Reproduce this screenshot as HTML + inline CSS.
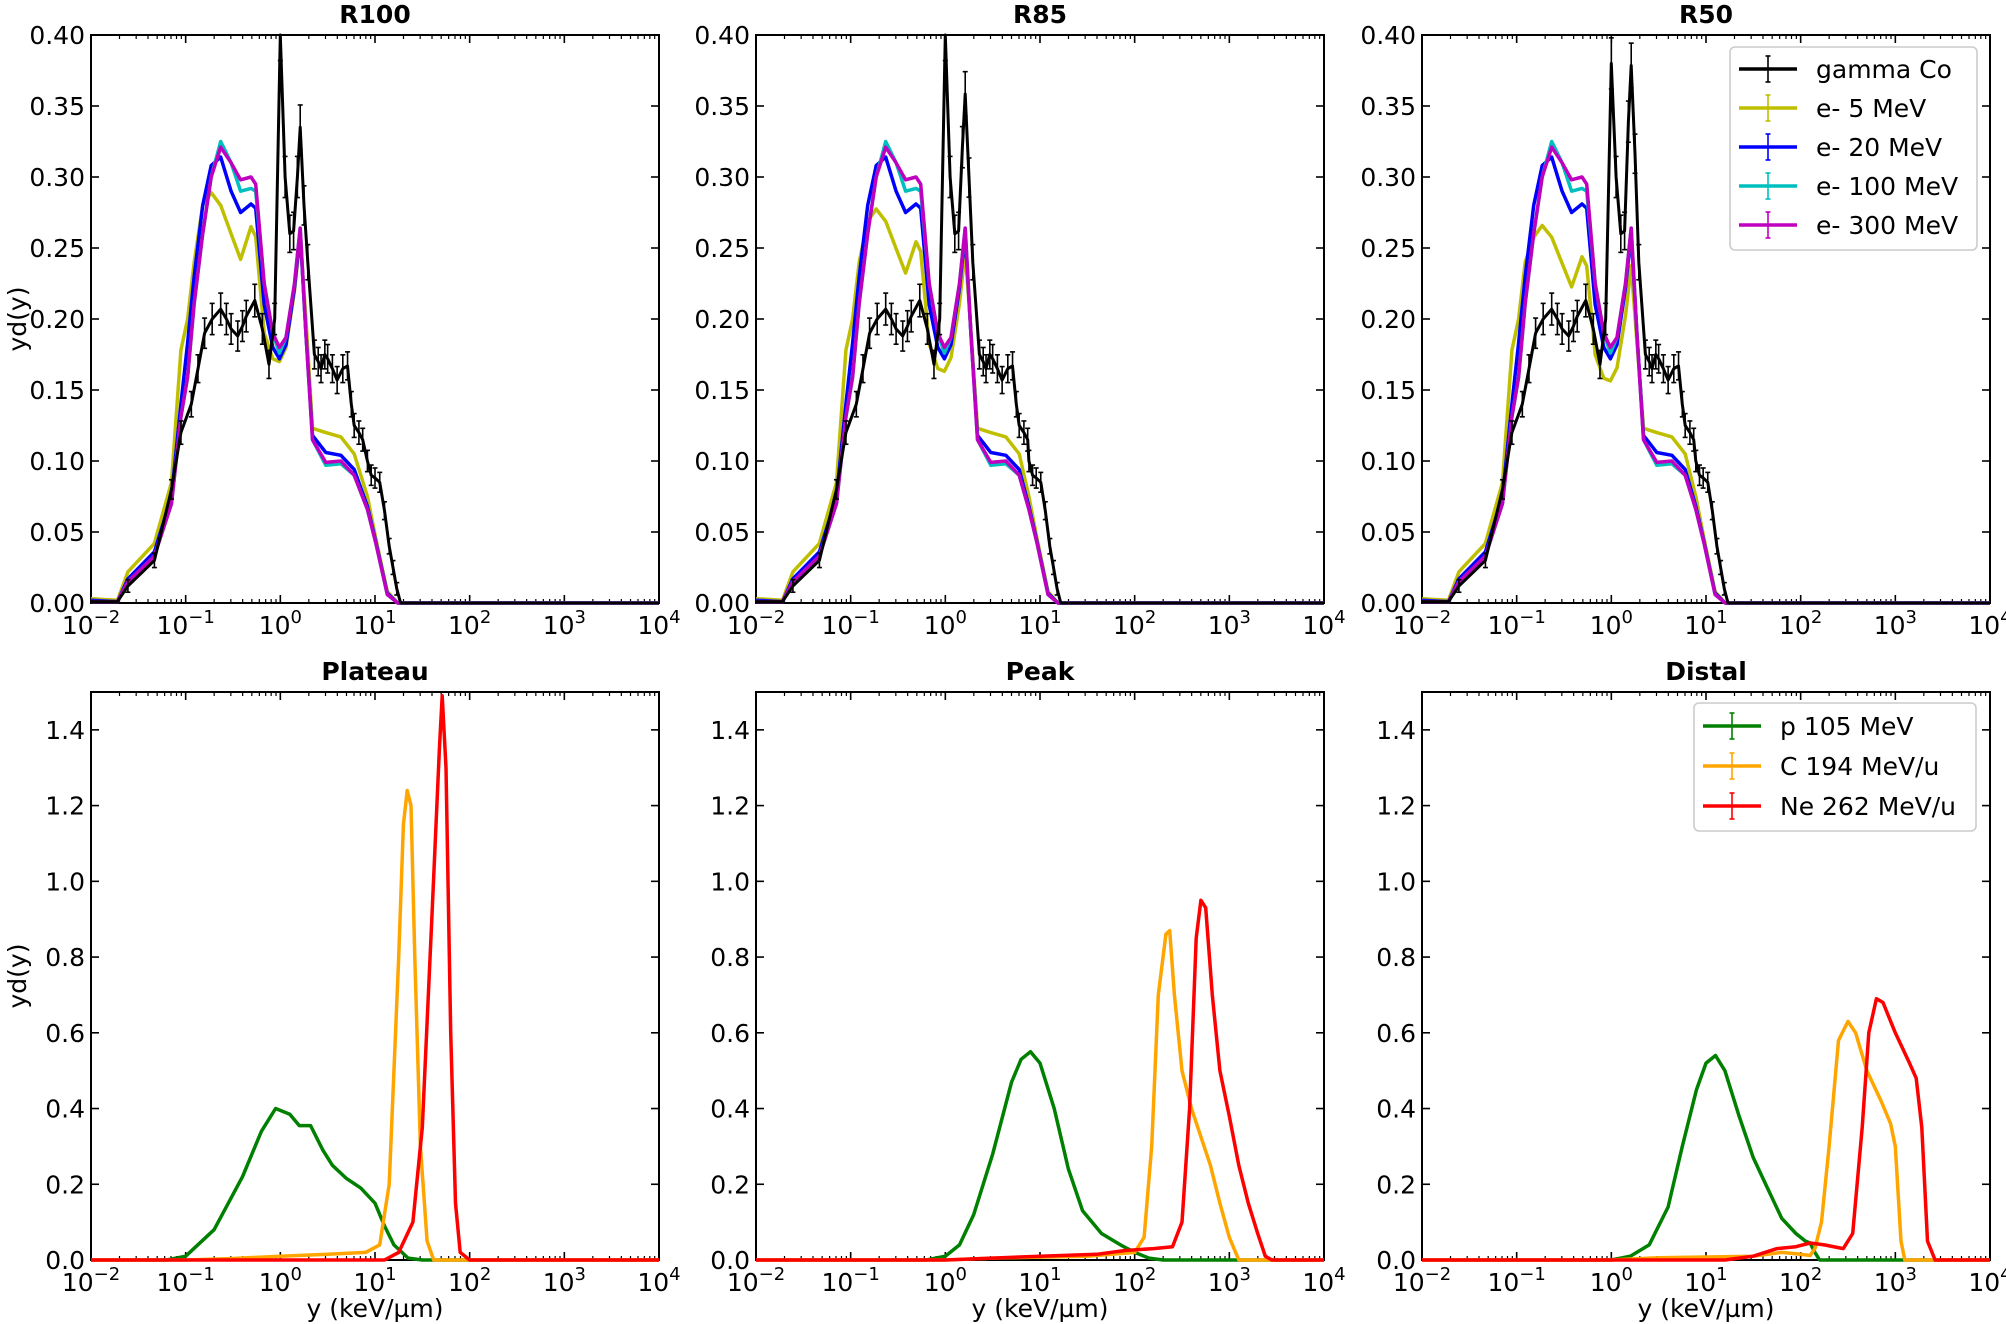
<!DOCTYPE html>
<html><head><meta charset="utf-8">
<style>
html,body{margin:0;padding:0;background:#fff;}
svg{display:block;font-family:"DejaVu Sans","Liberation Sans",sans-serif;}
</style></head>
<body>
<svg id="s" width="2006" height="1324" viewBox="0 0 2006 1324" xmlns="http://www.w3.org/2000/svg"></svg>
<script>
const S=document.getElementById('s');
let out='';
const W=568,H=568;
const cols=[91,756,1422];
const rows=[{t:35,ymax:0.4},{t:692,ymax:1.5}];
function X(l,lg){return l+(lg+2)/6*W;}
function Yf(t,ymax,v){return t+H-(v/ymax)*H;}
function path(l,t,ymax,pts,color,w){
  let d='';
  pts.forEach((p,i)=>{d+=(i?'L':'M')+X(l,p[0]).toFixed(1)+','+Yf(t,ymax,Math.max(0,Math.min(ymax,p[1]))).toFixed(1);});
  out+=`<path d="${d}" fill="none" stroke="${color}" stroke-width="${w}" stroke-linejoin="round"/>`;
}
function errbars(l,t,ymax,pts,color){
  pts.forEach(p=>{ if(p[1]<=0.003) return; const e=p[2]||0.008;
    const x=X(l,p[0]); const y1=Yf(t,ymax,Math.min(ymax,p[1]+e)), y2=Yf(t,ymax,p[1]-e);
    out+=`<line x1="${x}" y1="${y1}" x2="${x}" y2="${y2}" stroke="${color}" stroke-width="1.6"/><line x1="${x-2.5}" y1="${y1}" x2="${x+2.5}" y2="${y1}" stroke="${color}" stroke-width="1.6"/><line x1="${x-2.5}" y1="${y2}" x2="${x+2.5}" y2="${y2}" stroke="${color}" stroke-width="1.6"/>`;});
}
function axes(l,t,ymax,yticks,fmt,title,xlabel,ylabel){
  out+=`<rect x="${l}" y="${t}" width="${W}" height="${H}" fill="none" stroke="#000" stroke-width="2"/>`;
  for(let d=-2;d<=4;d++){
    const x=X(l,d);
    out+=`<line x1="${x}" y1="${t+H}" x2="${x}" y2="${t+H-8}" stroke="#000" stroke-width="1.6"/><line x1="${x}" y1="${t}" x2="${x}" y2="${t+8}" stroke="#000" stroke-width="1.6"/>`;
    out+=`<text x="${x}" y="${t+H+31}" font-size="25" text-anchor="middle">10<tspan dy="-11" font-size="18">${d<0?'\u2212'+(-d):d}</tspan></text>`;
    if(d<4) for(let k=2;k<=9;k++){const xm=X(l,d+Math.log10(k));
      out+=`<line x1="${xm}" y1="${t+H}" x2="${xm}" y2="${t+H-4}" stroke="#000" stroke-width="1.2"/><line x1="${xm}" y1="${t}" x2="${xm}" y2="${t+4}" stroke="#000" stroke-width="1.2"/>`;}
  }
  yticks.forEach(v=>{const y=Yf(t,ymax,v);
    out+=`<line x1="${l}" y1="${y}" x2="${l+8}" y2="${y}" stroke="#000" stroke-width="1.6"/><line x1="${l+W}" y1="${y}" x2="${l+W-8}" y2="${y}" stroke="#000" stroke-width="1.6"/>`;
    out+=`<text x="${l-6}" y="${y+9}" font-size="25" text-anchor="end">${v.toFixed(fmt)}</text>`;});
  out+=`<text x="${l+W/2}" y="${t-12}" font-size="25" font-weight="bold" text-anchor="middle">${title}</text>`;
  if(xlabel) out+=`<text x="${l+W/2}" y="${t+H+57}" font-size="25" text-anchor="middle">y (keV/\u00b5m)</text>`;
  if(ylabel) out+=`<text transform="translate(26,${t+H/2}) rotate(-90)" font-size="25" text-anchor="middle">yd(y)</text>`;
}
const xs=[-2,-1.72,-1.61,-1.33,-1.15,-1.05,-0.98,-0.91,-0.82,-0.73,-0.63,-0.52,-0.42,-0.31,-0.26,-0.17,-0.08,-0.01,0.06,0.15,0.21,0.27,0.34,0.48,0.64,0.78,0.92,1.01,1.13,1.24,4];
const mag=[.001,.001,.015,.033,.07,.131,.159,.211,.26,.30,.321,.31,.298,.30,.295,.225,.19,.18,.187,.225,.264,.19,.115,.099,.10,.09,.066,.042,.006,0,0];
const cya=mag.slice(); cya[10]=.325;cya[12]=.29;cya[13]=.292;cya[14]=.29;cya[17]=.176;cya[23]=.097;cya[24]=.098;
const blu=[.002,.001,.017,.036,.075,.14,.183,.23,.28,.308,.314,.29,.275,.281,.278,.21,.18,.172,.182,.222,.26,.19,.118,.106,.104,.094,.068,.043,.007,0,0];
const yel=[.003,.002,.022,.042,.085,.178,.2,.24,.28,.289,.28,.26,.242,.265,.258,.19,.172,.17,.18,.22,.258,.2,.123,.12,.117,.105,.075,.045,.008,0,0];
const blkR=[[-2,.001],[-1.72,.001],[-1.61,.012],[-1.33,.03],[-1.15,.08],[-1.05,.12],[-0.94,.14],[-0.87,.165],[-0.80,.19],[-0.72,.2],[-0.63,.207],[-0.57,.2],[-0.52,.193],[-0.45,.188],[-0.40,.195],[-0.36,.202],[-0.27,.213],[-0.19,.193],[-0.12,.168],[-0.06,.2],[0,.4],[0.05,.3],[0.1,.26],[0.14,.262],[0.18,.3],[0.21,.335],[0.25,.28],[0.29,.24],[0.36,.175],[0.40,.17],[0.43,.165],[0.47,.175],[0.5,.172],[0.55,.165],[0.6,.157],[0.66,.165],[0.71,.167],[0.75,.14],[0.78,.125],[0.83,.12],[0.87,.115],[0.92,.1],[0.96,.09],[1.0,.088],[1.05,.085],[1.1,.065],[1.15,.04],[1.19,.025],[1.23,.01],[1.27,0],[4,0]];
const topCfg=[
 {title:'R100',bs:[1,1],yel:1,end:1},
 {title:'R85',bs:[1,1.07],yel:0.96,end:0.96},
 {title:'R50',bs:[0.95,1.13],yel:0.92,end:0.97}];
const yt1=[0,0.05,0.1,0.15,0.2,0.25,0.3,0.35,0.4];
topCfg.forEach((c,i)=>{
  const l=cols[i],t=rows[0].t,ym=0.4;
  axes(l,t,ym,yt1,2,c.title,false,i==0);
  const sx=x=>x>0.9&&x<2?x*c.end:x;
  const mk=a=>xs.map((x,j)=>[sx(x),a[j]]);
  path(l,t,ym,xs.map((x,j)=>[sx(x),yel[j]*(x>-0.9&&x<0.3?c.yel:1)]),'#bfbf00',3.5);
  path(l,t,ym,mk(blu),'#0000ff',3.5);
  path(l,t,ym,mk(cya),'#00bfbf',3.5);
  path(l,t,ym,mk(mag),'#bf00bf',3.5);
  const b=blkR.map(p=>[sx(p[0]),p[1]*(p[0]>=0&&p[0]<0.05?c.bs[0]:(p[0]>0.15&&p[0]<0.26?c.bs[1]:1)),0.004+p[1]*0.035]);
  path(l,t,ym,b,'#000',3);
  errbars(l,t,ym,b,'#000');
});
const bot=[
 {title:'Plateau',
  g:[[-2,0],[-1.2,0],[-1,0.01],[-0.7,0.08],[-0.4,0.22],[-0.2,0.34],[-0.05,0.40],[0.1,0.385],[0.2,0.355],[0.32,0.355],[0.45,0.29],[0.55,0.25],[0.7,0.215],[0.85,0.19],[1.0,0.15],[1.1,0.09],[1.2,0.04],[1.35,0.005],[1.5,0],[4,0]],
  o:[[-2,0],[-1,0],[-0.5,0.004],[0,0.01],[0.5,0.015],[0.9,0.02],[1.05,0.04],[1.15,0.2],[1.25,0.8],[1.3,1.15],[1.34,1.24],[1.38,1.2],[1.42,0.8],[1.48,0.3],[1.55,0.05],[1.62,0],[4,0]],
  r:[[-2,0],[1.1,0],[1.25,0.02],[1.4,0.1],[1.5,0.35],[1.6,0.9],[1.68,1.35],[1.71,1.49],[1.75,1.3],[1.8,0.6],[1.85,0.15],[1.9,0.02],[2,0],[4,0]]},
 {title:'Peak',
  g:[[-2,0],[-0.2,0],[0,0.01],[0.15,0.04],[0.3,0.12],[0.5,0.28],[0.7,0.47],[0.8,0.53],[0.9,0.55],[1.0,0.52],[1.15,0.4],[1.3,0.24],[1.45,0.13],[1.65,0.07],[1.85,0.04],[2.0,0.02],[2.15,0.005],[2.3,0],[4,0]],
  o:[[-2,0],[0,0],[0.5,0.005],[1.5,0.01],[2.0,0.02],[2.1,0.06],[2.18,0.3],[2.25,0.7],[2.33,0.86],[2.37,0.87],[2.42,0.7],[2.5,0.5],[2.6,0.4],[2.8,0.25],[2.9,0.15],[3.0,0.06],[3.1,0],[4,0]],
  r:[[-2,0],[0,0],[1,0.01],[1.6,0.015],[1.9,0.025],[2.2,0.03],[2.4,0.035],[2.5,0.1],[2.58,0.4],[2.65,0.85],[2.7,0.95],[2.75,0.93],[2.82,0.7],[2.9,0.5],[3.0,0.38],[3.1,0.25],[3.2,0.15],[3.3,0.07],[3.38,0.01],[3.45,0],[4,0]]},
 {title:'Distal',
  g:[[-2,0],[0,0],[0.2,0.01],[0.4,0.04],[0.6,0.14],[0.75,0.3],[0.9,0.45],[1.0,0.52],[1.1,0.54],[1.2,0.5],[1.35,0.38],[1.5,0.27],[1.65,0.19],[1.8,0.11],[1.95,0.07],[2.05,0.05],[2.1,0.045],[2.15,0.02],[2.2,0],[4,0]],
  o:[[-2,0],[0,0],[0.5,0.006],[1.5,0.01],[1.8,0.02],[2.0,0.015],[2.1,0.012],[2.15,0.03],[2.22,0.1],[2.3,0.3],[2.4,0.58],[2.5,0.63],[2.58,0.6],[2.7,0.5],[2.85,0.42],[2.95,0.36],[3.0,0.3],[3.06,0.05],[3.1,0],[4,0]],
  r:[[-2,0],[1.2,0],[1.5,0.01],[1.75,0.03],[1.95,0.035],[2.1,0.045],[2.25,0.04],[2.45,0.03],[2.55,0.07],[2.65,0.35],[2.72,0.6],[2.8,0.69],[2.87,0.68],[3.0,0.6],[3.15,0.52],[3.22,0.48],[3.28,0.35],[3.34,0.05],[3.42,0],[4,0]]}];
const yt2=[0,0.2,0.4,0.6,0.8,1.0,1.2,1.4];
bot.forEach((c,i)=>{
  const l=cols[i],t=rows[1].t,ym=1.5;
  axes(l,t,ym,yt2,1,c.title,true,i==0);
  path(l,t,ym,c.g,'#008000',3.5);
  path(l,t,ym,c.o,'#ffa500',3.5);
  path(l,t,ym,c.r,'#ff0000',3.5);
});
function legend(x,y,w,h,items){
  out+=`<rect x="${x}" y="${y}" width="${w}" height="${h}" rx="5" fill="#fff" fill-opacity="0.8" stroke="#ccc" stroke-width="1.6"/>`;
  items.forEach(it=>{
    out+=`<line x1="${x+9}" y1="${it[2]}" x2="${x+67}" y2="${it[2]}" stroke="${it[1]}" stroke-width="3.5"/><line x1="${x+38}" y1="${it[2]-13}" x2="${x+38}" y2="${it[2]+13}" stroke="${it[1]}" stroke-width="1.6"/><line x1="${x+35.5}" y1="${it[2]-13}" x2="${x+40.5}" y2="${it[2]-13}" stroke="${it[1]}" stroke-width="1.6"/><line x1="${x+35.5}" y1="${it[2]+13}" x2="${x+40.5}" y2="${it[2]+13}" stroke="${it[1]}" stroke-width="1.6"/>`;
    out+=`<text x="${x+86}" y="${it[2]+9}" font-size="25">${it[0]}</text>`;});
}
legend(1730,47,247,203,[['gamma Co','#000',69],['e- 5 MeV','#bfbf00',108],['e- 20 MeV','#0000ff',147],['e- 100 MeV','#00bfbf',186],['e- 300 MeV','#bf00bf',225]]);
legend(1694,703,282,128,[['p 105 MeV','#008000',726],['C 194 MeV/u','#ffa500',766],['Ne 262 MeV/u','#ff0000',806]]);
S.innerHTML=out;
</script>
</body></html>
